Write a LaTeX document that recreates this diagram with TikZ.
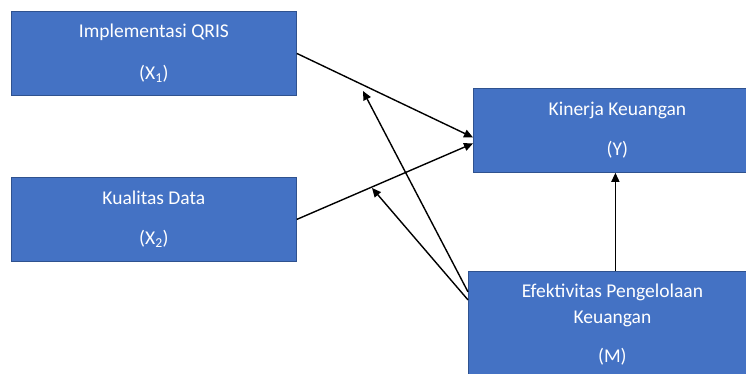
\documentclass[tikz,border=0pt]{standalone}
\usepackage{fontspec}
\setmainfont{Carlito}
\usetikzlibrary{arrows.meta}
\definecolor{boxblue}{HTML}{4472C4}
\definecolor{boxline}{HTML}{2F528F}

\begin{document}
\begin{tikzpicture}[x=1pt,y=-1pt,
    varbox/.style={draw=boxline, line width=0.8pt, fill=boxblue, text=white,
      inner sep=0pt, anchor=north west, align=center,
      font=\fontsize{19.5}{24}\selectfont},
    link/.style={line width=1.4pt, -{Triangle[length=9pt,width=8pt]}}]
    \useasboundingbox (0,0) rectangle (746,373);
    \clip (0,0) rectangle (746,373);

    \node[varbox, minimum width=285pt, minimum height=84pt] (x1) at (11,11)
      {Implementasi QRIS\\[18pt](X\textsubscript{1})};
    \node[varbox, minimum width=285pt, minimum height=84pt] (x2) at (11,177)
      {Kualitas Data\\[16pt](X\textsubscript{2})};
    \node[varbox, minimum width=288pt, minimum height=84pt] (y) at (473,88)
      {Kinerja Keuangan\\[16pt](Y)};
    \node[varbox, minimum width=288pt, minimum height=107pt] (m) at (468,271)
      {Efektivitas Pengelolaan\\[2pt]Keuangan\\[15pt](M)};

    % moderation tips sit on the X -> Y lines
    \coordinate (t1) at (363,91);
    \coordinate (t2) at (372,188);

    \draw[link] (x1.east) -- ([yshift=-7pt]y.west);
    \draw[link] (x2.east) -- ([yshift=-13pt]y.west);
    \draw[link] ([yshift=33pt]m.west) -- (t1);
    \draw[link] ([yshift=25pt]m.west) -- (t2);
    \draw[link] ([xshift=3pt]m.north) -- ([xshift=3pt]m.north |- y.south);
  \end{tikzpicture}
\end{document}
